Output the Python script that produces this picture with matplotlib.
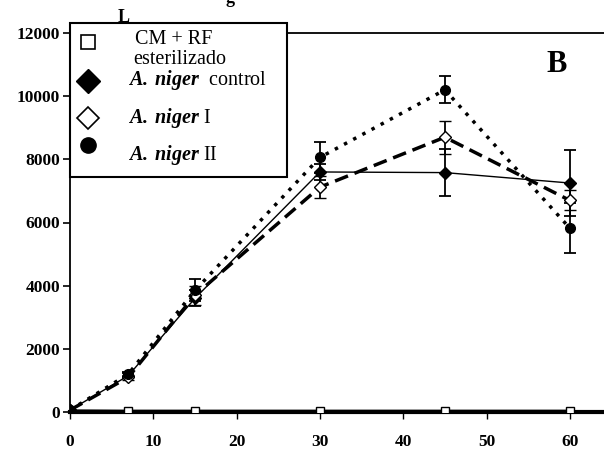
import matplotlib
matplotlib.use('Agg')
import matplotlib.pyplot as plt
from matplotlib.lines import Line2D
from matplotlib.patches import Rectangle

# days of incubation
dias = [0, 7, 15, 30, 45, 60]

cm_rf = [40, 30, 30, 30, 30, 30]
cm_rf_err = [0, 0, 0, 0, 0, 0]

control = [60, 1150, 3600, 7600, 7580, 7250]
control_err = [0, 80, 250, 250, 750, 1050]

niger_1 = [60, 1100, 3700, 7120, 8700, 6700]
niger_1_err = [0, 80, 300, 350, 520, 320]

niger_2 = [60, 1200, 3850, 8060, 10200, 5820]
niger_2_err = [0, 80, 350, 500, 430, 790]

yticks = [0, 2000, 4000, 6000, 8000, 10000, 12000]
xticks = [0, 10, 20, 30, 40, 50, 60]

plt.rcParams['font.family'] = ['Liberation Serif', 'DejaVu Serif']
plt.rcParams['mathtext.fontset'] = 'custom'
plt.rcParams['mathtext.rm'] = 'Liberation Serif'
plt.rcParams['mathtext.bfit'] = 'Liberation Serif:italic:bold'

W, H = 604, 455
fig = plt.figure(figsize=(W/100, H/100), dpi=100)
ax = fig.add_axes([70/W, 1 - 412/H, 1 - 70/W, (412 - 33)/H])

def fx(px):
    return px / W

def fy(py):
    return 1 - py / H

ekw = dict(ecolor='black', elinewidth=1.3, capsize=4, capthick=1.3)

ax.errorbar(dias, cm_rf, yerr=cm_rf_err, color='black', lw=2, marker='s',
            ms=6, mfc='white', mec='black', mew=1, zorder=3, **ekw)
ax.errorbar(dias, control, yerr=control_err, color='black', lw=1, marker='D',
            ms=6, mfc='black', mec='black', zorder=4, **ekw)
ax.errorbar(dias, niger_1, yerr=niger_1_err, color='black', lw=2.5, ls=(0, (4, 2)),
            marker='D', ms=6, mfc='white', mec='black', mew=1, zorder=4, **ekw)
ax.errorbar(dias, niger_2, yerr=niger_2_err, color='black', lw=2.5, ls=(0, (1, 2)),
            marker='o', ms=7, mfc='black', mec='black', zorder=4, **ekw)

ax.set_xlim(0, 64.1)
ax.set_ylim(0, 12000)
ax.set_xticks(xticks)
ax.set_yticks(yticks)
ax.set_xticklabels([str(t) for t in xticks], fontweight='bold', fontsize=12.5)
ax.set_yticklabels([str(t) for t in yticks], fontweight='bold', fontsize=12.5)
ax.tick_params(axis='x', direction='out', length=5, width=1, pad=11)
ax.tick_params(axis='y', direction='out', length=5, width=1.2, pad=2)
ax.spines['right'].set_visible(False)
ax.spines['bottom'].set_linewidth(3)
ax.spines['left'].set_linewidth(1.3)
ax.spines['top'].set_linewidth(1.3)

fig.text(fx(557), fy(64), 'B', fontsize=22, fontweight='bold',
         ha='center', va='center')
fig.text(fx(124), fy(22), 'L', fontsize=13, fontweight='bold',
         ha='center', va='baseline', zorder=0)
fig.text(fx(230), fy(3), 'g', fontsize=13, fontweight='bold',
         ha='center', va='baseline')

# legend box drawn by hand to keep the uneven spacing of the original
fig.add_artist(Rectangle((fx(70), fy(177)), fx(287) - fx(70), fy(23) - fy(177),
                         transform=fig.transFigure, facecolor='white',
                         edgecolor='black', lw=1.5, zorder=10))
markers = [
    (42, dict(marker='s', ms=10, mfc='white', mec='black', mew=1.2)),
    (81, dict(marker='D', ms=12, mfc='black', mec='black')),
    (118, dict(marker='D', ms=11, mfc='white', mec='black', mew=1.2)),
    (145, dict(marker='o', ms=11, mfc='black', mec='black')),
]
for py, kw in markers:
    fig.add_artist(Line2D([fx(88)], [fy(py)], ls='none', transform=fig.transFigure,
                          zorder=11, **kw))
labels = [
    (135, 40, 'CM + RF'),
    (133, 59, 'esterilizado'),
    (128, 80, r'$\mathbfit{A.\,niger}$  control'),
    (128, 118, r'$\mathbfit{A.\,niger}$ I'),
    (128, 155, r'$\mathbfit{A.\,niger}$ II'),
]
for px, py, s in labels:
    fig.text(fx(px), fy(py), s, fontsize=14.5, ha='left', va='center', zorder=11)

fig.savefig('out.png', dpi=100)
